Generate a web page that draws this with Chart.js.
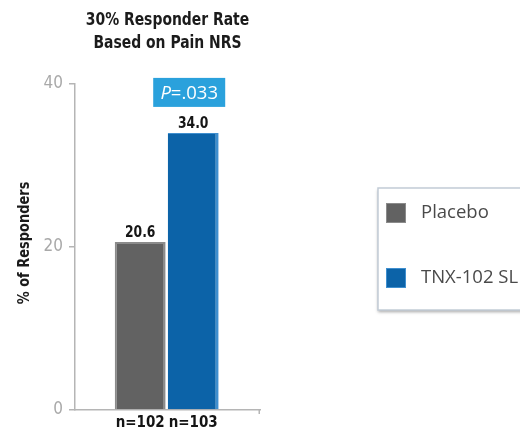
<!DOCTYPE html>
<html>
<head>
<meta charset="utf-8">
<script src="https://cdn.jsdelivr.net/npm/chart.js@4.4.1/dist/chart.umd.min.js"></script>
<style>
  html, body { margin: 0; padding: 0; background: #ffffff; }
  #wrap { width: 520px; height: 434px; }
</style>
</head>
<body>
<div id="wrap"><canvas id="chart" width="520" height="434"></canvas></div>
<script>
// Study arms and their 30% responder rates (pain NRS)
const seriesNames = ['Placebo', 'TNX-102 SL'];
const groupLabels = ['n=102', 'n=103'];
const responderRates = [20.6, 34.0];
const xPositions = [1, 2];
const yTicks = [0, 20, 40];
const titleLines = ['30% Responder Rate', 'Based on Pain NRS'];
const yAxisTitle = '% of Responders';
const pValueLabel = { italic: 'P', rest: '=.033' };

const CONDENSED = "'DejaVu Sans Condensed', 'Liberation Sans Narrow', sans-serif";
const SANS = "'Open Sans', 'Noto Sans', sans-serif";

const fills = ['#626262', '#0c63a8'];
const edges = ['#8b8b8b', '#3f8fcf'];
const edgeWidths = [
  { left: 2, right: 2, top: 2, bottom: 0 },
  { left: 0, right: 3, top: 1, bottom: 0 }
];

// Bold display text, narrowed horizontally to a compressed headline face
function condensedText(ctx, text, x, y, size, squeeze, rotate) {
  ctx.save();
  ctx.translate(x, y);
  if (rotate) ctx.rotate(rotate);
  ctx.scale(squeeze, 1);
  ctx.font = 'bold ' + size + 'px ' + CONDENSED;
  ctx.textAlign = 'center';
  ctx.fillText(text, 0, 0);
  ctx.restore();
}

// Chart heading and vertical axis caption
const headings = {
  id: 'headings',
  afterDraw(chart) {
    const { ctx, chartArea } = chart;
    const cx = (chartArea.left + chartArea.right) / 2;
    ctx.save();
    ctx.fillStyle = '#1b1b1b';
    ctx.textBaseline = 'alphabetic';
    titleLines.forEach((line, i) => condensedText(ctx, line, cx, 25 + i * 22.5, 18, 0.86, 0));
    ctx.textBaseline = 'middle';
    condensedText(ctx, yAxisTitle, chartArea.left - 50, (chartArea.top + chartArea.bottom) / 2 - 4, 15.5, 0.93, -Math.PI / 2);
    ctx.restore();
  }
};

// Value labels over the bars and the p-value badge over the active arm
const annotations = {
  id: 'annotations',
  afterDatasetsDraw(chart) {
    const ctx = chart.ctx;
    chart.data.datasets.forEach((ds, i) => {
      const bar = chart.getDatasetMeta(i).data[0];
      ctx.save();
      ctx.fillStyle = '#161616';
      ctx.textBaseline = 'alphabetic';
      condensedText(ctx, responderRates[i].toFixed(1), bar.x, bar.y - 5, 16, 0.86, 0);
      ctx.restore();
    });

    const active = chart.getDatasetMeta(1).data[0];
    const boxW = 72, boxH = 29;
    const cx = active.x - 4;
    const bottom = active.y - 26;
    ctx.save();
    ctx.fillStyle = '#2aa1dc';
    ctx.fillRect(cx - boxW / 2, bottom - boxH, boxW, boxH);
    ctx.fillStyle = '#ffffff';
    ctx.textBaseline = 'middle';
    ctx.textAlign = 'left';
    const italicFont = 'italic 18.5px ' + SANS;
    const plainFont = '18.5px ' + SANS;
    ctx.font = italicFont;
    const w1 = ctx.measureText(pValueLabel.italic).width;
    ctx.font = plainFont;
    const w2 = ctx.measureText(pValueLabel.rest).width;
    const x0 = cx - (w1 + w2) / 2;
    const ty = bottom - boxH / 2 + 1;
    ctx.font = italicFont;
    ctx.fillText(pValueLabel.italic, x0, ty);
    ctx.font = plainFont;
    ctx.fillText(pValueLabel.rest, x0 + w1, ty);
    ctx.restore();
  }
};

// Boxed legend to the right of the plot
const boxedLegend = {
  id: 'boxedLegend',
  afterDraw(chart) {
    const ctx = chart.ctx;
    const left = 378, top = 188, width = 170, height = 122;
    ctx.save();
    ctx.shadowColor = 'rgba(0,0,0,0.35)';
    ctx.shadowOffsetY = 2;
    ctx.shadowBlur = 3;
    ctx.fillStyle = '#ffffff';
    ctx.fillRect(left, top, width, height);
    ctx.restore();

    ctx.save();
    ctx.strokeStyle = '#c2ccd6';
    ctx.lineWidth = 1.5;
    ctx.strokeRect(left, top, width, height);
    chart.data.datasets.forEach((ds, i) => {
      const y = top + 15 + i * 65;
      ctx.fillStyle = ds.backgroundColor;
      ctx.fillRect(386, y, 20, 20);
      ctx.strokeStyle = ds.borderColor;
      ctx.lineWidth = 1;
      ctx.strokeRect(386.5, y + 0.5, 19, 19);
      ctx.fillStyle = '#4a4a4a';
      ctx.font = '18.5px ' + SANS;
      ctx.textAlign = 'left';
      ctx.textBaseline = 'middle';
      ctx.fillText(ds.label, 421, y + 10);
    });
    ctx.restore();
  }
};

// Short closing tick at the right end of the category axis
const axisEndTick = {
  id: 'axisEndTick',
  afterDraw(chart) {
    const { ctx, chartArea } = chart;
    ctx.save();
    ctx.strokeStyle = '#b5b5b5';
    ctx.lineWidth = 1.5;
    ctx.beginPath();
    ctx.moveTo(chartArea.right - 0.75, chartArea.bottom);
    ctx.lineTo(chartArea.right - 0.75, chartArea.bottom + 4);
    ctx.stroke();
    ctx.restore();
  }
};

new Chart(document.getElementById('chart'), {
  type: 'bar',
  data: {
    datasets: seriesNames.map((name, i) => ({
      label: name,
      data: [{ x: xPositions[i], y: responderRates[i] }],
      backgroundColor: fills[i],
      borderColor: edges[i],
      borderWidth: edgeWidths[i],
      borderSkipped: false,
      grouped: false,
      categoryPercentage: 1,
      barPercentage: 0.96
    }))
  },
  options: {
    responsive: false,
    animation: false,
    devicePixelRatio: 1,
    layout: { padding: { left: 0, right: 260, top: 84, bottom: 0 } },
    plugins: {
      legend: { display: false },
      tooltip: { enabled: false },
      title: { display: false }
    },
    scales: {
      x: {
        type: 'linear',
        offset: false,
        min: -0.23,
        max: 3.26,
        afterBuildTicks: (s) => { s.ticks = xPositions.map(v => ({ value: v })); },
        ticks: {
          callback: (v, i) => groupLabels[i],
          color: '#141414',
          font: { family: CONDENSED, size: 15, weight: 'bold' },
          padding: 4,
          autoSkip: false,
          maxRotation: 0
        },
        grid: { display: false, drawTicks: false },
        border: { display: true, color: '#b5b5b5', width: 1.5 },
        afterFit: (s) => { s.height = 24; }
      },
      y: {
        min: 0,
        max: 40,
        afterBuildTicks: (s) => { s.ticks = yTicks.map(v => ({ value: v })); },
        ticks: {
          color: '#a9a9a9',
          font: { family: "'Liberation Sans Narrow', 'DejaVu Sans Condensed', sans-serif", size: 17 },
          padding: 6
        },
        grid: { display: true, drawOnChartArea: false, drawTicks: true, tickLength: 6, color: '#b5b5b5', lineWidth: 1.5 },
        border: { display: true, color: '#b5b5b5', width: 1.5 },
        afterFit: (s) => { s.width = 75; }
      }
    }
  },
  plugins: [annotations, headings, boxedLegend, axisEndTick]
});
</script>
</body>
</html>
